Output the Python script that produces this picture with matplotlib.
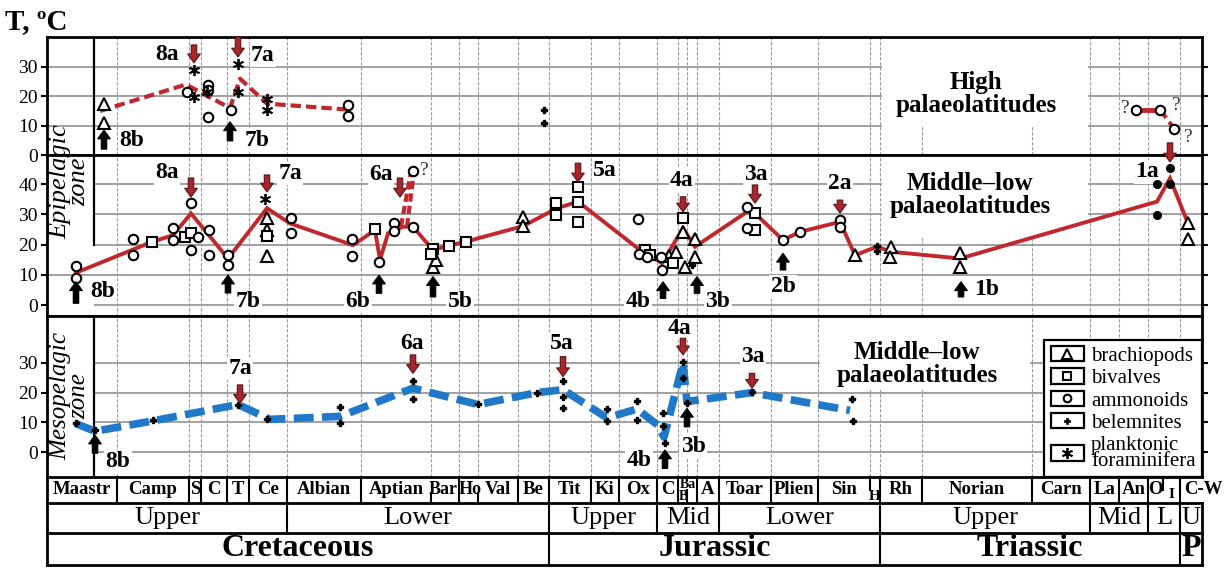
import matplotlib
matplotlib.use('Agg')
import matplotlib.pyplot as plt
from matplotlib.patches import Rectangle
from matplotlib.lines import Line2D
from matplotlib.legend_handler import HandlerBase

plt.rcParams['font.family'] = 'Liberation Serif'

# stratigraphic scale (position along the chart, stage edges)
stage_edges = [47, 117, 189, 201, 227, 249, 287, 361, 431, 459, 478, 518, 549, 591, 619,
               657, 678, 687, 697, 719, 771, 818, 870, 880, 922, 1032, 1090, 1119, 1148,
               1163, 1180, 1202]
stage_names = ['Maastr', 'Camp', 'S', 'C', 'T', 'Ce', 'Albian', 'Aptian', 'Bar', 'Ho', 'Val',
               'Be', 'Tit', 'Ki', 'Ox', 'C', 'Ba', 'B', 'A', 'Toar', 'Plien', 'Sin', 'H', 'Rh',
               'Norian', 'Carn', 'La', 'An', 'O', 'I', 'C-W']
epoch_edges = [47, 287, 549, 657, 719, 880, 1090, 1148, 1180, 1202]
epoch_names = ['Upper', 'Lower', 'Upper', 'Mid', 'Lower', 'Upper', 'Mid', 'L', 'U']
period_edges = [47, 549, 880, 1180, 1202]
period_names = ['Cretaceous', 'Jurassic', 'Triassic', 'P']

# epipelagic, high palaeolatitudes
hi_trend_x = [100, 186, 230, 240, 267, 347]
hi_trend_y = [15, 24, 16, 26, 17.5, 15.5]
hi_late_x = [1136, 1160, 1174]
hi_late_y = [15.5, 15.5, 9]
hi_brach_x = [104, 104]
hi_brach_y = [17.5, 10.8]
hi_ammon_x = [187, 208, 208, 208, 231, 348, 348, 1136, 1160, 1174]
hi_ammon_y = [21.5, 23.7, 22, 13, 15.3, 17.2, 13.3, 15.5, 15.5, 9]
hi_belem_x = [544, 544]
hi_belem_y = [15.5, 10.9]
hi_foram_x = [194, 194, 207, 238, 238, 267, 267]
hi_foram_y = [28.8, 19.6, 21.5, 31, 21.5, 19.2, 15.3]

# epipelagic, middle-low palaeolatitudes
mid_trend_x = [76, 152, 173, 191, 228, 267, 290, 353, 375, 380, 388, 403, 413, 433, 448, 465,
               523, 557, 578, 640, 645, 662, 683, 695, 747, 755, 783, 800, 840, 855, 877, 892,
               960, 1157, 1170, 1188]
mid_trend_y = [10.7, 20.9, 23.1, 30.3, 15.4, 32, 27, 19.8, 24.8, 14.9, 23.7, 25.9, 25.9, 18.2,
               19.6, 20.9, 26.1, 32, 34.2, 18.2, 17.6, 13.8, 25.4, 19.3, 30.8, 30.3, 21.5, 24.2,
               27.5, 16.5, 19.3, 17.6, 15.4, 34.2, 41.9, 27]
mid_brach_x = [267, 267, 267, 433, 436, 523, 523, 669, 676, 683, 685, 695, 695, 855, 891, 890,
               960, 960, 1188, 1188]
mid_brach_y = [28.7, 24.8, 16.2, 12.5, 14.9, 29.2, 26.1, 16.2, 17.6, 24.2, 12.5, 21.7, 16,
               16.5, 19.1, 15.8, 17.3, 12.7, 27, 22]
mid_bival_x = [152, 185, 191, 267, 375, 433, 431, 449, 466, 556, 556, 578, 578, 578, 645, 650,
               673, 683, 755, 755]
mid_bival_y = [20.9, 22.4, 23.9, 22.8, 25.1, 18.7, 16.8, 19.6, 20.9, 33.6, 29.8, 38.9, 34.2,
               27.5, 18.2, 16.5, 14, 28.7, 30.5, 24.8]
mid_ammon_x = [76, 76, 133, 133, 173, 173, 191, 191, 198, 209, 209, 228, 228, 291, 291, 352,
               352, 379, 394, 394, 413, 413, 638, 639, 647, 661, 662, 747, 747, 783, 800, 840, 840]
mid_ammon_y = [12.9, 8.8, 22, 16.5, 25.6, 21.5, 33.6, 18.2, 22.4, 24.8, 16.5, 16.5, 13.2, 28.9,
               23.7, 22, 16.2, 14.3, 27.2, 24.6, 44.4, 25.9, 28.3, 16.9, 15.8, 15.8, 11.6, 32.5,
               25.6, 21.5, 24.2, 28.1, 25.9]
mid_belem_x = [692, 877, 877]
mid_belem_y = [13.2, 19.5, 18]
mid_foram_x = [265]
mid_foram_y = [34.9]
mid_dot_x = [1157, 1157, 1170, 1170]
mid_dot_y = [39.9, 29.8, 45.2, 39.9]
# 6a, uncertain values
q6a_x = [[401, 411], [407, 414]]
q6a_y = [[26, 44], [26, 44]]

# mesopelagic, middle-low palaeolatitudes
meso_trend_x = [75, 95, 153, 238, 270, 340, 413, 478, 537, 563, 607, 637, 658, 664, 683, 687,
                752, 850]
meso_trend_y = [9.7, 7, 10.5, 16, 11, 12, 21.5, 16, 20, 21, 11.5, 14.5, 9, 5, 30, 17, 20, 14]
meso_belem_x = [76, 95, 153, 238, 267, 340, 340, 413, 413, 478, 537, 563, 563, 563, 607, 607,
                637, 637, 663, 663, 665, 683, 683, 687, 752, 852, 853]
meso_belem_y = [9.7, 7.4, 10.8, 15.8, 11, 15.1, 9.7, 24, 17.8, 16.1, 20, 23.9, 18.4, 14.7,
                14.4, 10.6, 17.2, 10.8, 13.2, 8.8, 2.9, 30.4, 24.8, 16.4, 20.3, 17.8, 10.6]

RED = '#c1272d'
RED_FILL = '#a5262c'
RED_EDGE = '#5a1414'
BLUE = '#1f78c8'
GRID = '#9a9a9a'

W, H = 1225, 568
fig = plt.figure(figsize=(W / 100, H / 100), dpi=100)


def px_axes(x0, y0, x1, y1):
    return fig.add_axes([x0 / W, 1 - y1 / H, (x1 - x0) / W, (y1 - y0) / H])


X0, X1 = stage_edges[0], stage_edges[-1]
ax_hi = px_axes(X0, 37, X1, 155)
ax_mid = px_axes(X0, 155, X1, 316)
ax_mes = px_axes(X0, 316, X1, 477)
ax_tab = px_axes(X0, 477, X1, 565)

panels = [(ax_hi, (0, 40.2), [0, 10, 20, 30]),
          (ax_mid, (-3.6, 49.6), [0, 10, 20, 30, 40]),
          (ax_mes, (-8.4, 45.8), [0, 10, 20, 30])]
for ax, lims, ticks in panels:
    ax.set_xlim(X0, X1)
    ax.set_ylim(*lims)
    ax.set_xticks([])
    ax.set_yticks(ticks)
    ax.tick_params(axis='y', direction='out', length=4.5, width=1.5, right=True,
                   labelsize=14, pad=2)
    for s in ax.spines.values():
        s.set_linewidth(2)
    for e in stage_edges[1:-1]:
        if e != 1163:
            ax.axvline(e, color=GRID, lw=0.8, ls=(0, (3, 1.5)), zorder=1)

# horizontal grid
for y in [10, 20, 30]:
    ax_hi.hlines(y, 47, X1, color=GRID, lw=1.3, zorder=1)
for y in [0, 10, 20, 30, 40]:
    ax_mid.hlines(y, 47 if y == 10 else 94, X1, color=GRID, lw=1.3, zorder=1)
for y in [0, 10, 20, 30]:
    ax_mes.hlines(y, 94, X1, color=GRID, lw=1.3, zorder=1)

# left column border
ax_hi.axvline(94, color='black', lw=1.6, zorder=2)
ax_mid.plot([94, 94], [20, 49.6], color='black', lw=1.6, zorder=2)
ax_mes.axvline(94, color='black', lw=1.6, zorder=2)

# white fields behind the region captions
ax_hi.add_patch(Rectangle((882, 9.5), 206, 31, fc='white', ec='none', zorder=1.5))
ax_mid.add_patch(Rectangle((882, 22.5), 206, 28, fc='white', ec='none', zorder=1.5))
ax_mes.add_patch(Rectangle((820, 21), 210, 26, fc='white', ec='none', zorder=1.5))

mk = dict(ls='none', mfc='white', mec='black', mew=1.5, zorder=4)
brach = dict(marker='^', ms=8.5, **mk)
bival = dict(marker='s', ms=7.5, **mk)
ammon = dict(marker='o', ms=6.8, **mk)
belem = dict(marker='P', ms=5, ls='none', color='black', zorder=4)
foram = dict(marker=(6, 2, 0), ms=8, ls='none', color='black', mew=1.3, zorder=4)

# high palaeolatitudes
ax_hi.plot(hi_trend_x, hi_trend_y, color=RED, lw=3, ls=(0, (2.5, 1.2)), zorder=3)
ax_hi.plot(hi_late_x[:2], hi_late_y[:2], color=RED, lw=3.5, zorder=3)
ax_hi.plot(hi_late_x[1:], hi_late_y[1:], color=RED, lw=3, ls=(0, (2.5, 1.2)), zorder=3)
ax_hi.plot(hi_brach_x, hi_brach_y, **brach)
ax_hi.plot(hi_ammon_x, hi_ammon_y, **ammon)
ax_hi.plot(hi_belem_x, hi_belem_y, **belem)
ax_hi.plot(hi_foram_x, hi_foram_y, **foram)

# epipelagic middle-low
ax_mid.plot(mid_trend_x, mid_trend_y, color=RED, lw=2.8, zorder=3, solid_joinstyle='miter')
for qx, qy in zip(q6a_x, q6a_y):
    ax_mid.plot(qx, qy, color=RED, lw=3, ls=(0, (2, 1)), zorder=3)
ax_mid.plot(mid_brach_x, mid_brach_y, **brach)
ax_mid.plot(mid_bival_x, mid_bival_y, **bival)
ax_mid.plot(mid_ammon_x, mid_ammon_y, **ammon)
ax_mid.plot(mid_belem_x, mid_belem_y, **belem)
ax_mid.plot(mid_foram_x, mid_foram_y, **foram)
ax_mid.plot(mid_dot_x, mid_dot_y, 'o', color='black', ms=5.5, zorder=4)

# mesopelagic
ax_mes.plot(meso_trend_x, meso_trend_y, color=BLUE, lw=5.5, ls=(0, (2.6, 1.1)), zorder=3)
ax_mes.plot(meso_belem_x, meso_belem_y, **belem)

# question marks on uncertain values
for ax, x, y in [(ax_hi, 1125, 15.9), (ax_hi, 1176, 17), (ax_hi, 1188, 6.1), (ax_mid, 424, 44.6)]:
    ax.text(x, y, '?', fontsize=14, color='#333333', ha='center', va='center', zorder=4)


def arrow(ax, x, tail, tip, fc, ec):
    ax.annotate('', xy=(x, tip), xytext=(x, tail), annotation_clip=False, zorder=5,
                arrowprops=dict(arrowstyle='simple,head_length=0.45,head_width=0.65,tail_width=0.28',
                                fc=fc, ec=ec, lw=0.8, shrinkA=0, shrinkB=0, mutation_scale=14))


def label(ax, x, y, s):
    ax.text(x, y, s, fontsize=17, fontweight='bold', ha='center', va='center', zorder=2.5,
            bbox=dict(boxstyle='square,pad=0.05', fc='white', ec='none'))


# warm (a) and cool (b) events: axis, x, arrow tail, arrow tip, text x, text y
warm = [(ax_hi, 194, 37.5, 31.4, '8a', 167, 34.3), (ax_hi, 238, 40.2, 33.4, '7a', 263, 34),
        (ax_mid, 191, 42, 35.7, '8a', 167, 43.7), (ax_mid, 267, 43, 37.4, '7a', 290, 43.5),
        (ax_mid, 400, 42, 35.7, '6a', 381, 43), (ax_mid, 578, 46.9, 40.7, '5a', 605, 44.6),
        (ax_mid, 683, 35.8, 30.8, '4a', 682, 41.3), (ax_mid, 755, 39.7, 33.7, '3a', 756, 43),
        (ax_mid, 840, 34.7, 30.4, '2a', 840, 40.2), (ax_mid, 1170, 53.6, 47.3, '1a', 1147, 44),
        (ax_mes, 240, 22.6, 16.4, '7a', 240, 28.2), (ax_mes, 413, 32.7, 26.5, '6a', 412, 36.6),
        (ax_mes, 563, 32.1, 25.4, '5a', 562, 36.6), (ax_mes, 683, 38.3, 32.7, '4a', 680, 41.7),
        (ax_mes, 752, 26.5, 21.5, '3a', 753, 32.1)]
cool = [(ax_hi, 104, 2, 8.5, '8b', 132, 5.1), (ax_hi, 230, 4.8, 11.3, '7b', 257, 5.1),
        (ax_mid, 76, 0.6, 7.7, '8b', 103, 4.4), (ax_mid, 228, 4, 9.9, '7b', 248, 1.1),
        (ax_mid, 379, 3.9, 9.9, '6b', 358, 1.1), (ax_mid, 433, 2.7, 9.4, '5b', 460, 1.1),
        (ax_mid, 663, 2.2, 7.7, '4b', 638, 1.1), (ax_mid, 697, 3.9, 9.4, '3b', 718, 1.1),
        (ax_mid, 783, 11.6, 17.1, '2b', 783, 6), (ax_mid, 961, 2.7, 7.7, '1b', 987, 5),
        (ax_mes, 95, -0.4, 5.7, '8b', 118, -3.3), (ax_mes, 665, -5.5, 0.7, '4b', 639, -2.7),
        (ax_mes, 687, 8.5, 14.7, '3b', 693, 2)]
for ax, x, t0, t1, s, lx, ly in warm:
    label(ax, lx, ly, s)
    arrow(ax, x, t0, t1, RED_FILL, RED_EDGE)
for ax, x, t0, t1, s, lx, ly in cool:
    label(ax, lx, ly, s)
    arrow(ax, x, t0, t1, 'black', 'black')

cap = dict(fontsize=18, fontweight='bold', ha='center', va='center', linespacing=1.0, zorder=2.5)
ax_hi.text(976, 20.8, 'High\npalaeolatitudes', **cap)
ax_mid.text(970, 36.5, 'Middle\u2013low\npalaeolatitudes', **cap)
ax_mes.text(917, 29.7, 'Middle\u2013low\npalaeolatitudes', **cap)


class BoxedMarker(HandlerBase):
    def create_artists(self, legend, orig_handle, xdescent, ydescent, width, height,
                       fontsize, trans):
        box = Rectangle((-xdescent, -ydescent), width, height, fc='white', ec='black',
                        lw=1.6, transform=trans)
        m = Line2D([-xdescent + width / 2], [-ydescent + height / 2], ls='none',
                   marker=orig_handle.get_marker(), ms=orig_handle.get_markersize(),
                   mfc=orig_handle.get_markerfacecolor(), mec='black',
                   mew=orig_handle.get_markeredgewidth(), transform=trans)
        return [box, m]


handles = [Line2D([], [], marker='^', ms=7, mfc='white', mec='black', mew=1.5, ls='none'),
           Line2D([], [], marker='s', ms=6, mfc='white', mec='black', mew=1.5, ls='none'),
           Line2D([], [], marker='o', ms=5.5, mfc='white', mec='black', mew=1.5, ls='none'),
           Line2D([], [], marker='P', ms=4.5, mfc='black', mec='black', mew=0.5, ls='none'),
           Line2D([], [], marker=(6, 2, 0), ms=8, mfc='black', mec='black', mew=1.3, ls='none')]
names = ['brachiopods', 'bivalves', 'ammonoids', 'belemnites', 'planktonic\nforaminifera']
leg = ax_mes.legend(handles, names, handler_map={Line2D: BoxedMarker()}, loc='lower right',
                    bbox_to_anchor=(1.0, 0.0), borderaxespad=0, fontsize=15, fancybox=False,
                    framealpha=1, edgecolor='black', handlelength=1.6, handleheight=0.75,
                    labelspacing=0.12, handletextpad=0.35, borderpad=0.3)
leg.get_frame().set_linewidth(1.6)
leg.get_texts()[4].set_linespacing(0.8)
leg.set_zorder(6)

fig.text(70 / W, 1 - 182 / H, 'Epipelagic\nzone', rotation=90, fontsize=19, style='italic',
         ha='center', va='center', linespacing=0.8)
fig.text(70 / W, 1 - 396 / H, 'Mesopelagic\nzone', rotation=90, fontsize=18, style='italic',
         ha='center', va='center', linespacing=0.8)
fig.text(5 / W, 1 - 22 / H, 'T, \u00baC', fontsize=21, fontweight='bold', ha='left', va='center')

# stratigraphic table
ax_tab.set_xlim(X0, X1)
ax_tab.set_ylim(0, 88)
ax_tab.axis('off')
tl = dict(color='black', clip_on=False)
for y in [0, 32, 62]:
    ax_tab.plot([X0, X1], [y, y], lw=2, **tl)
ax_tab.plot([X0, X0], [0, 88], lw=2, **tl)
ax_tab.plot([X1, X1], [0, 62], lw=2, **tl)
partial = {431: (62, 72), 478: (62, 72), 687: (62, 75), 870: (75, 88), 1163: (75, 88)}
for e in stage_edges[1:-1]:
    y0, y1 = partial.get(e, (62, 88))
    ax_tab.plot([e, e], [y0, y1], lw=1.5, **tl)
for e in epoch_edges[1:-1]:
    ax_tab.plot([e, e], [32, 62], lw=1.5, **tl)
for e in period_edges[1:-1]:
    ax_tab.plot([e, e], [0, 32], lw=1.5, **tl)

special = {'Bar': (443, 75, 13, 'center'), 'Ho': (470, 75, 13, 'center'),
           'Ba': (688, 81, 10, 'center'), 'B': (683, 68, 10, 'center'),
           'H': (875, 69, 11, 'center'), 'I': (1171, 71, 11, 'center'),
           'C-W': (1184, 75, 13.5, 'left')}
for i, name in enumerate(stage_names):
    x, y, fs, ha = (stage_edges[i] + stage_edges[i + 1]) / 2, 75, 13.5, 'center'
    if name in special:
        x, y, fs, ha = special[name]
    ax_tab.text(x, y, name, fontsize=fs, fontweight='bold', ha=ha, va='center')
for i, name in enumerate(epoch_names):
    ax_tab.text((epoch_edges[i] + epoch_edges[i + 1]) / 2, 47, name, fontsize=19,
                ha='center', va='center')
for i, name in enumerate(period_names):
    ax_tab.text((period_edges[i] + period_edges[i + 1]) / 2, 16, name, fontsize=23,
                fontweight='bold', ha='center', va='center')

fig.savefig('out.png', dpi=100)
